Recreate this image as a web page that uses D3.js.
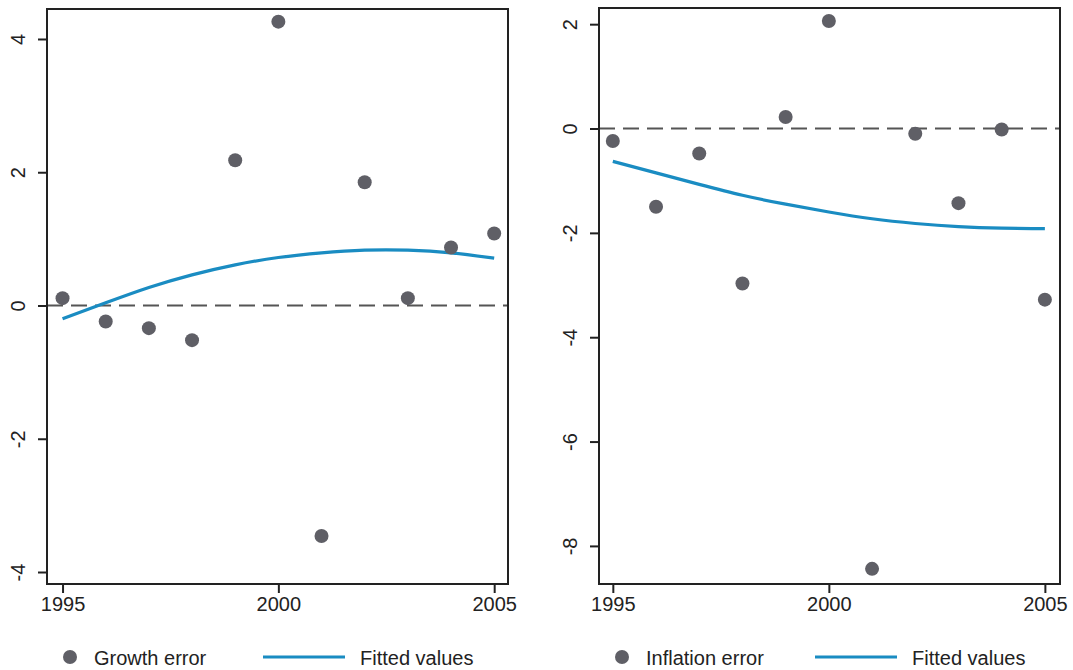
<!DOCTYPE html>
<html>
<head>
<meta charset="utf-8">
<script src="https://d3js.org/d3.v7.min.js"></script>
<style>
body { margin: 0; background: #fff; }
svg { display: block; font-family: "Liberation Sans", Arial, sans-serif; }
</style>
</head>
<body>
<svg id="drawing_region"></svg>
<script>
const years = [1995, 1996, 1997, 1998, 1999, 2000, 2001, 2002, 2003, 2004, 2005];
const growth_error = [0.11, -0.24, -0.34, -0.52, 2.18, 4.26, -3.46, 1.85, 0.11, 0.87, 1.08];
const growth_fitted = [-0.20, 0.04, 0.27, 0.46, 0.61, 0.72, 0.79, 0.83, 0.83, 0.79, 0.71];
const inflation_error = [-0.24, -1.50, -0.48, -2.97, 0.22, 2.06, -8.44, -0.10, -1.43, -0.02, -3.28];
const inflation_fitted = [-0.63, -0.85, -1.07, -1.28, -1.45, -1.60, -1.73, -1.82, -1.88, -1.91, -1.92];
const x_ticks = [1995, 2000, 2005];
const growth_yticks = [-4, -2, 0, 2, 4];
const inflation_yticks = [-8, -6, -4, -2, 0, 2];

const svg = d3.select('#drawing_region')
  .attr('width', 1073)
  .attr('height', 670);

const dot_color = '#5f5f66';
const line_color = '#1a8cc2';

function panel( cfg ) {
  const xscale = d3.scaleLinear().domain(cfg.xdomain).range([cfg.left, cfg.right]);
  const yscale = d3.scaleLinear().domain(cfg.ydomain).range([cfg.bottom, cfg.top]);
  const g = svg.append('g');

  // zero reference line
  g.append('line')
    .attr('x1', cfg.left).attr('x2', cfg.right)
    .attr('y1', yscale(0)).attr('y2', yscale(0))
    .attr('stroke', '#555').attr('stroke-width', 2)
    .attr('stroke-dasharray', '16,8');

  // fitted line
  const line = d3.line()
    .x( (d, i) => xscale(years[i]) )
    .y( d => yscale(d) )
    .curve(d3.curveNatural);
  g.append('path')
    .datum(cfg.fitted)
    .attr('d', line)
    .attr('fill', 'none')
    .attr('stroke', line_color)
    .attr('stroke-width', 3.2);

  // points
  g.selectAll('circle.pt')
    .data(cfg.points)
    .enter()
    .append('circle')
    .attr('class', 'pt')
    .attr('cx', (d, i) => xscale(years[i]))
    .attr('cy', d => yscale(d))
    .attr('r', 7)
    .attr('fill', dot_color);

  // frame
  g.append('rect')
    .attr('x', cfg.left).attr('y', cfg.top)
    .attr('width', cfg.right - cfg.left)
    .attr('height', cfg.bottom - cfg.top)
    .attr('fill', 'none')
    .attr('stroke', '#222')
    .attr('stroke-width', 2);

  // x axis
  const xaxis = d3.axisBottom(xscale).tickValues(x_ticks).tickSize(9).tickPadding(4).tickFormat(d => String(d));
  const xg = g.append('g')
    .attr('transform', `translate(0, ${cfg.bottom})`)
    .call(xaxis);
  xg.select('.domain').remove();
  xg.selectAll('line').attr('stroke', '#222').attr('stroke-width', 2);
  xg.selectAll('text').attr('font-size', 20).attr('fill', '#222')
    .attr('font-family', '"Liberation Sans", Arial, sans-serif');

  // y axis, labels rotated, plain hyphen for minus
  const yaxis = d3.axisLeft(yscale).tickValues(cfg.yticks).tickSize(9).tickPadding(0).tickFormat(d => String(d));
  const yg = g.append('g')
    .attr('transform', `translate(${cfg.left}, 0)`)
    .call(yaxis);
  yg.select('.domain').remove();
  yg.selectAll('line').attr('stroke', '#222').attr('stroke-width', 2);
  yg.selectAll('.tick text')
    .attr('font-size', 20).attr('fill', '#222')
    .attr('font-family', '"Liberation Sans", Arial, sans-serif')
    .attr('text-anchor', 'middle')
    .attr('dy', 0)
    .attr('x', 0).attr('y', 0)
    .attr('transform', `translate(${-cfg.labelOff}, 0) rotate(-90)`);

  // legend
  const ly = 657;
  g.append('circle')
    .attr('cx', cfg.legendX).attr('cy', ly).attr('r', 7).attr('fill', dot_color);
  g.append('text')
    .attr('x', cfg.legendX + 24).attr('y', ly + 8)
    .attr('font-size', 20).attr('fill', '#222')
    .text(cfg.label);
  g.append('line')
    .attr('x1', cfg.legendX + 193).attr('x2', cfg.legendX + 275)
    .attr('y1', ly).attr('y2', ly)
    .attr('stroke', line_color).attr('stroke-width', 3.2);
  g.append('text')
    .attr('x', cfg.legendX + 290).attr('y', ly + 8)
    .attr('font-size', 20).attr('fill', '#222')
    .text('Fitted values');
}

panel({
  left: 47, right: 508, top: 9, bottom: 584,
  xdomain: [1994.64, 2005.32],
  ydomain: [-4.18, 4.45],
  yticks: growth_yticks,
  points: growth_error,
  fitted: growth_fitted,
  labelOff: 22,
  legendX: 70,
  label: 'Growth error'
});

panel({
  left: 599, right: 1060, top: 8, bottom: 584,
  xdomain: [1994.68, 2005.35],
  ydomain: [-8.73, 2.31],
  yticks: inflation_yticks,
  points: inflation_error,
  fitted: inflation_fitted,
  labelOff: 22,
  legendX: 622,
  label: 'Inflation error'
});
</script>
</body>
</html>
